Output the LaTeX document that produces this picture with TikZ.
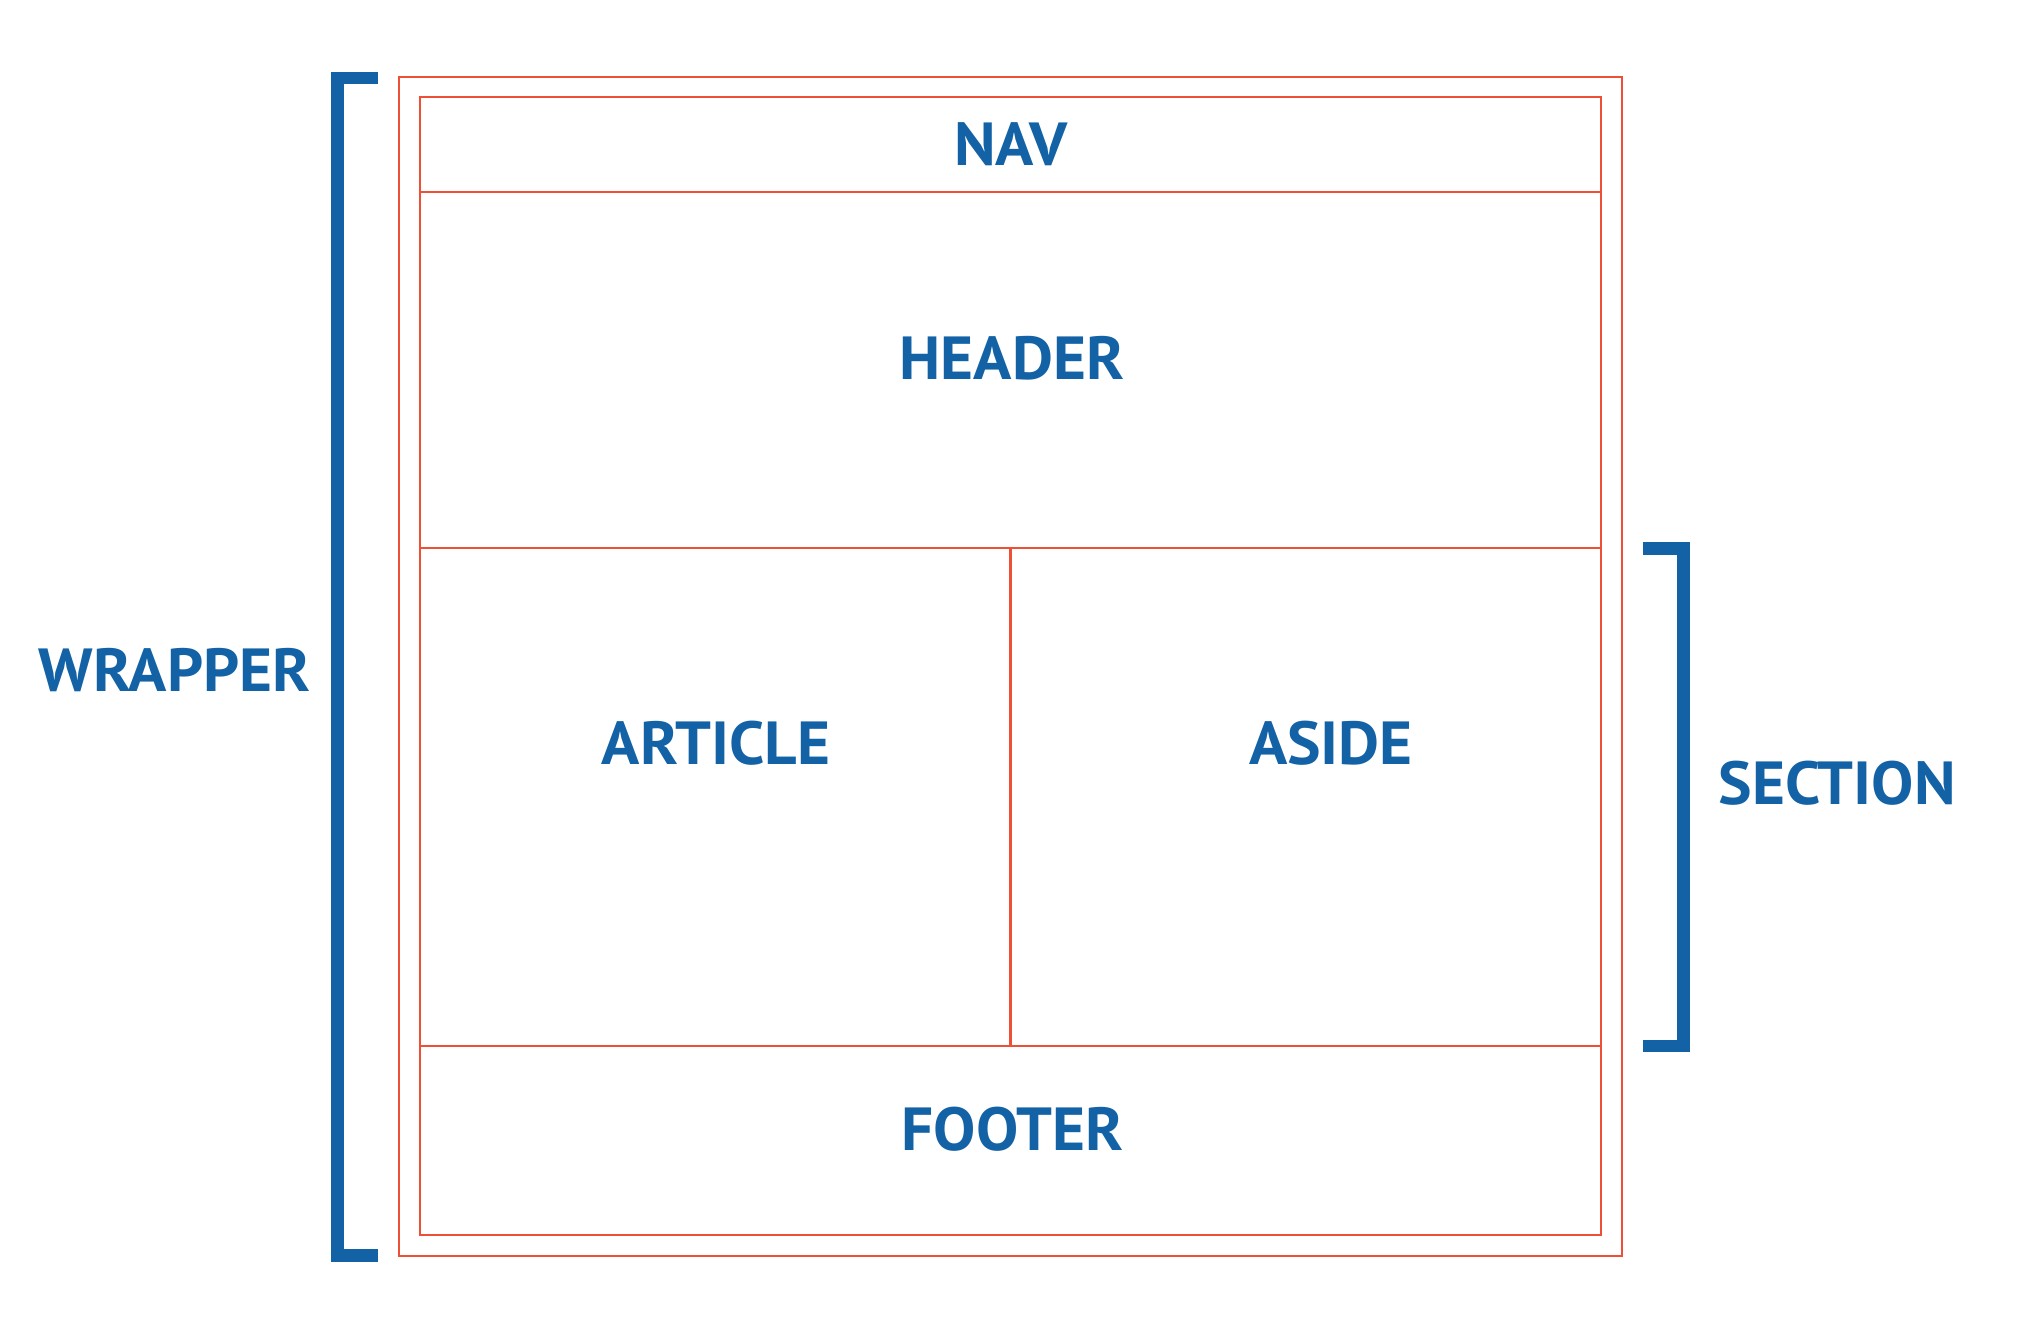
\documentclass[tikz,border=0pt]{standalone}
\usepackage{fontspec}
\setmainfont[FakeStretch=1.04]{PT Sans}
\usepackage{xcolor}
\usepackage{tikz}
\definecolor{layoutblue}{RGB}{20,98,166}
\definecolor{layoutred}{RGB}{238,80,55}
\tikzset{
  box/.style={draw=layoutred, line width=0.6pt},
  brace/.style={draw=layoutblue, line width=3.6pt},
  tag/.style={text=layoutblue, anchor=base, inner sep=0pt,
    font=\fontsize{17.3}{20}\selectfont\bfseries}
}
\begin{document}
\begin{tikzpicture}[x=0.01cm, y=-0.01cm]
		\useasboundingbox (0,0) rectangle (2021,1332);
		\def\inl{420}; \def\inr{1601};
		% wrapper and inner frame
		\draw[box] (399,77) rectangle (1622,1256);
		\draw[box] (\inl,97) rectangle (\inr,1235);
		\draw[box] (\inl,192) -- (\inr,192);
		\draw[box] (\inl,548) -- (\inr,548);
		\draw[box] (\inl,1046) -- (\inr,1046);
		\draw[box] (1010.5,548) -- (1010.5,1046);
		% brackets
		\draw[brace] (378,78) -- (337.5,78) -- (337.5,1255.5) -- (378,1255.5);
		\draw[brace] (1643,548.5) -- (1683.5,548.5) -- (1683.5,1046) -- (1643,1046);
		%
		\node[tag] (nav) at (1011,165.5) {NAV};
		\node[tag] (header) at (1012,379) {HEADER};
		\node[tag] (article) at (716,764) {ARTICLE};
		\node[tag] (aside) at (1331,764) {ASIDE};
		\node[tag] (footer) at (1012.5,1150) {FOOTER};
		\node[tag] (wrapper) at (174.5,691) {WRAPPER};
		\node[tag] (section) at (1837,804) {SECTION};
	\end{tikzpicture}
\end{document}
